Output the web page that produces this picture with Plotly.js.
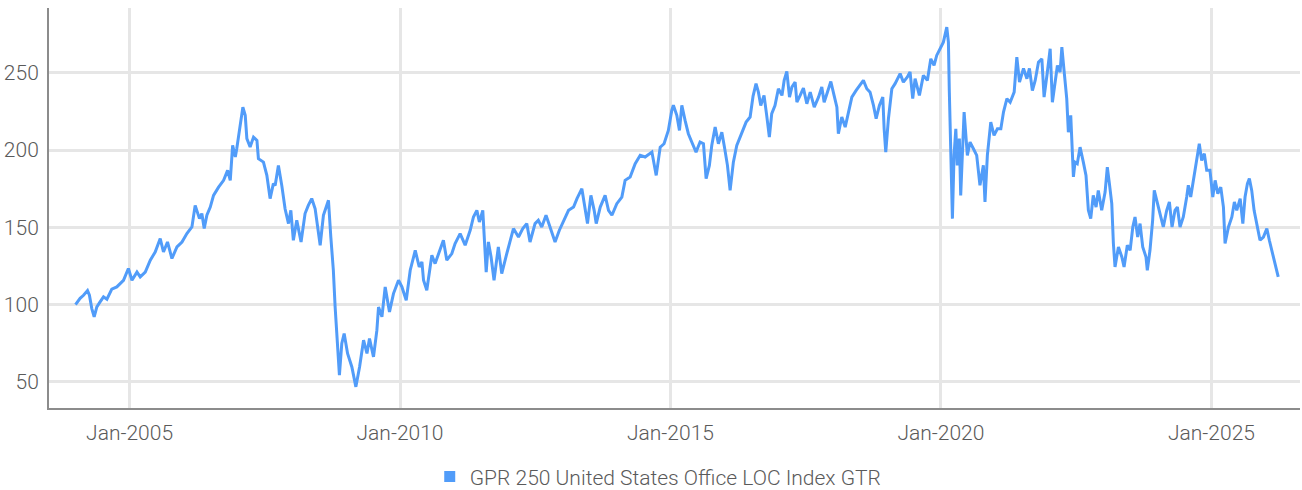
<!DOCTYPE html>
<html>
<head>
<meta charset="utf-8">
<script src="https://cdn.plot.ly/plotly-3.0.1.min.js"></script>
<style>
  html, body { margin: 0; padding: 0; background: #ffffff; }
  #chart { width: 1302px; height: 490px; }
</style>
</head>
<body>
<div id="chart"></div>
<script>
// ---- Data ----
const seriesName = "GPR 250 United States Office LOC Index GTR";

const dates = [
  "2004-01-02","2004-02-02","2004-02-25","2004-03-23","2004-04-05","2004-04-21","2004-05-07","2004-05-25","2004-06-16","2004-07-09","2004-08-01","2004-09-03","2004-10-07","2004-11-21","2004-12-24",
  "2005-01-17","2005-02-20","2005-03-14","2005-04-17","2005-05-21","2005-06-23","2005-07-27","2005-08-18","2005-09-14","2005-10-14","2005-11-17","2005-12-21",
  "2006-01-23","2006-02-26","2006-03-20","2006-04-18","2006-05-04","2006-05-20","2006-06-07","2006-06-30","2006-07-22","2006-08-25","2006-09-28","2006-10-25","2006-11-12","2006-11-28","2006-12-16","2006-12-26",
  "2007-01-18","2007-02-05","2007-02-21","2007-03-04","2007-03-26","2007-04-18","2007-05-11","2007-05-21","2007-06-24","2007-07-17","2007-08-08","2007-08-30","2007-09-11","2007-10-03","2007-10-26","2007-11-17","2007-12-10","2007-12-26",
  "2008-01-12","2008-02-04","2008-03-04","2008-03-31","2008-04-22","2008-05-15","2008-06-07","2008-07-11","2008-08-02","2008-09-05","2008-09-21","2008-10-08","2008-10-20","2008-10-31","2008-11-18","2008-12-04","2008-12-20",
  "2009-01-12","2009-02-10","2009-03-09","2009-04-03","2009-04-30","2009-05-23","2009-06-09","2009-07-06","2009-07-29","2009-08-09","2009-09-01","2009-09-23","2009-10-22","2009-11-18","2009-12-22",
  "2010-01-14","2010-02-12","2010-03-11","2010-04-14","2010-05-11","2010-05-29","2010-06-09","2010-07-01","2010-08-04","2010-08-26","2010-09-18","2010-10-21","2010-11-13","2010-12-17",
  "2011-01-08","2011-02-11","2011-03-17","2011-04-20","2011-05-12","2011-06-04","2011-06-21","2011-07-14","2011-08-06","2011-08-21","2011-09-08","2011-09-28","2011-10-27","2011-11-19","2011-12-23",
  "2012-01-26","2012-02-06","2012-03-11","2012-04-09","2012-05-06","2012-05-28","2012-07-01","2012-07-23","2012-08-15","2012-09-13","2012-10-10","2012-11-13","2012-12-12",
  "2013-01-09","2013-02-12","2013-03-18","2013-04-10","2013-05-13","2013-05-29","2013-06-20","2013-07-13","2013-08-04","2013-08-18","2013-09-14","2013-10-17","2013-11-09","2013-12-02",
  "2014-01-04","2014-02-07","2014-03-01","2014-04-04","2014-05-08","2014-06-11","2014-07-14","2014-08-29","2014-09-27","2014-10-24","2014-11-19","2014-12-18",
  "2015-01-10","2015-01-21","2015-02-13","2015-03-03","2015-03-19","2015-04-10","2015-05-02","2015-05-25","2015-06-23","2015-07-20","2015-08-12","2015-08-30","2015-09-21","2015-10-07","2015-10-30","2015-11-21","2015-12-14",
  "2016-01-01","2016-01-21","2016-02-08","2016-03-01","2016-03-24","2016-04-15","2016-05-08","2016-05-26","2016-06-22","2016-07-12","2016-08-01","2016-08-17","2016-09-02","2016-09-24","2016-10-12","2016-10-30","2016-11-15","2016-12-07","2016-12-30",
  "2017-01-23","2017-02-07","2017-02-25","2017-03-15","2017-03-31","2017-04-22","2017-05-04","2017-05-26","2017-06-17","2017-07-10","2017-08-02","2017-08-29","2017-09-27","2017-10-19","2017-11-04","2017-11-26","2017-12-19",
  "2018-01-10","2018-01-29","2018-02-08","2018-03-03","2018-03-26","2018-04-17","2018-05-10","2018-06-08","2018-07-05","2018-07-27","2018-08-19","2018-09-10","2018-10-03","2018-10-21","2018-11-12","2018-12-05","2018-12-14","2018-12-25",
  "2019-01-12","2019-02-04","2019-02-26","2019-04-01","2019-04-23","2019-05-20","2019-06-07","2019-06-25","2019-07-11","2019-08-09","2019-09-05","2019-10-02","2019-10-25","2019-11-16","2019-12-04","2019-12-27",
  "2020-01-18","2020-02-10","2020-02-21","2020-02-27","2020-03-08","2020-03-19","2020-03-30","2020-04-11","2020-04-21","2020-05-05","2020-05-14","2020-06-06","2020-06-28","2020-07-16","2020-08-07","2020-08-30","2020-09-21","2020-10-14","2020-10-25","2020-11-10","2020-12-03","2020-12-25",
  "2021-01-17","2021-02-09","2021-02-27","2021-03-22","2021-04-13","2021-05-10","2021-05-28","2021-06-15","2021-07-12","2021-08-04","2021-08-21","2021-09-10","2021-09-29","2021-10-21","2021-11-13","2021-11-28","2021-12-20",
  "2022-01-08","2022-01-23","2022-02-10","2022-02-26","2022-03-16","2022-03-28","2022-04-14","2022-04-30","2022-05-11","2022-05-27","2022-06-14","2022-06-25","2022-07-10","2022-07-29","2022-08-20","2022-09-07","2022-09-23","2022-10-09","2022-10-26","2022-11-14","2022-11-29","2022-12-22",
  "2023-01-14","2023-01-29","2023-02-12","2023-02-28","2023-03-11","2023-03-22","2023-04-14","2023-05-07","2023-05-22","2023-06-13","2023-07-02","2023-07-20","2023-08-04","2023-08-22","2023-09-07","2023-09-25","2023-10-17","2023-10-26","2023-11-13","2023-12-01","2023-12-12",
  "2024-01-02","2024-01-25","2024-02-11","2024-03-05","2024-03-23","2024-04-10","2024-04-30","2024-05-16","2024-06-03","2024-06-25","2024-07-18","2024-07-29","2024-08-14","2024-08-31","2024-09-23","2024-10-11","2024-10-27","2024-11-14","2024-11-30","2024-12-22",
  "2025-01-10","2025-01-26","2025-02-13","2025-03-05","2025-03-23","2025-04-03","2025-04-26","2025-05-19","2025-06-05","2025-06-21","2025-07-14","2025-08-01","2025-08-16","2025-09-01","2025-09-14","2025-09-30","2025-10-16","2025-11-03","2025-11-25","2025-12-18",
  "2026-01-10","2026-01-27","2026-02-19","2026-03-07","2026-03-28"
];

const values = [
  100,104,106,109,106,97.4,92,98.5,101.7,105,103.4,110,111.4,115.7,123.3,
  115.7,121,117.9,121,128.7,134,142.7,134,140.5,129.8,137.3,140.5,
  146,150.2,164.2,155.6,158.9,149.2,157.8,163.1,170.7,176,180.4,186.9,180.4,203,195.5,201,
  216,227.8,222.5,207.4,202,208.4,206.3,194.4,192.2,183.6,168.6,178.3,177,190,177,162,152.4,161,
  141.6,154.5,140.5,158.9,164.2,168.6,162,138.4,157.8,167.5,143.7,122.2,98.4,79,54.3,74.8,81.2,
  68.3,59.6,46.7,59.6,76.9,68.3,78,66.1,83.4,98.4,92,111.4,95.2,107.1,115.7,
  111.4,102.8,122.2,135,124.3,127.6,115.7,109.2,131.9,126.5,133,141.6,128.7,133,
  139.5,145.9,138.4,148.1,156.7,161,153.4,161,121,140.5,130.8,115.7,137.3,120,133,
  145.9,149.2,143.7,149.2,152.4,140.5,152.4,154.5,150.2,157.8,150.2,140.5,148.1,
  154.5,161,163.1,168.6,175,165.3,152.4,170.7,161,152.4,163.1,170.7,161,157.8,
  165.3,169.6,180.4,182.6,191.2,196.6,195.5,198.7,183.6,201.9,204.1,212.7,
  225.7,229,222.5,212.7,229,219.2,210.6,205.2,198.7,205.2,204.1,181.5,190.1,203,214.9,204.1,211.6,
  201.9,190.1,173.9,192.2,203,208.4,214.9,218.1,221.4,235,243,237.5,228.9,235.4,222.5,208.4,223.6,228.9,239.7,
  235.4,245.1,250.9,234.3,240.8,244,231,235.4,240.1,230,237.5,227.8,234.3,240.8,231,237.5,244.4,
  235.4,227.8,210.6,221.4,214.9,223.6,234.3,238.6,241.9,245.1,239.7,237.5,228.9,220.3,228.9,234.3,213.8,198.7,
  220.3,239.7,243,249.5,244,247.3,250.6,233.3,246.2,235.4,248.4,245.1,259.1,254.8,261.3,265.6,
  269.9,279.6,269.9,238.6,205.2,155.6,196.6,213.8,190.1,207.4,170.7,224.6,196.6,205.2,201,196.6,177.2,190.1,166.4,196.6,218.1,209.5,
  213.8,213.8,224.6,233.3,231,237.5,260.2,244,252.9,246.2,252.9,238.6,245.1,256.9,259.1,234.3,250.4,
  265.6,231,244,254.8,250.4,266.6,249.4,233.3,211.6,222.5,182.6,192.2,191.2,201.9,192.2,183.6,161,155.6,170.7,163.1,173.9,161,
  172.8,189,178.3,165.3,139.5,124.3,137.3,130.8,124.3,138.4,135.1,150.2,156.7,143.7,152.4,137.3,130.8,122.2,135.1,154.5,173.9,
  166.4,156.7,150.2,161,166.4,150.2,161,163.1,150.2,156.7,169.6,177.2,169.6,180.4,192.2,204.1,193.3,197.7,186.9,186.9,
  169.6,180.4,171.8,176,163.1,139.5,150.2,156.7,166.4,161,168.6,152.4,169.6,178.3,181.5,173.9,161,152.4,141.6,143.7,
  149.2,141.6,133,126.5,117.9
];

const yTicks = [50, 100, 150, 200, 250];

// ---- Styling ----
const lineColor = "#519cf9";
const gridColor = "#e6e6e6";
const axisColor = "#8c8c8c";
const textColor = "#5a5a5a";
const font = { family: "Roboto, 'Open Sans', sans-serif", size: 21, color: textColor, weight: 300 };

const traces = [
  {
    type: "scatter",
    mode: "lines",
    x: dates,
    y: values,
    name: seriesName,
    showlegend: false,
    line: { color: lineColor, width: 3 },
    hoverinfo: "x+y"
  },
  {
    type: "scatter",
    mode: "markers",
    x: [null],
    y: [null],
    name: seriesName,
    showlegend: true,
    marker: { color: lineColor, symbol: "square", size: 11 }
  }
];

const layout = {
  width: 1302,
  height: 490,
  margin: { l: 49, r: 2, t: 8, b: 82, autoexpand: false },
  paper_bgcolor: "#ffffff",
  plot_bgcolor: "#ffffff",
  font: font,
  showlegend: true,
  legend: {
    orientation: "h",
    x: 0.487,
    xanchor: "center",
    y: -0.172,
    yanchor: "middle",
    font: font,
    itemwidth: 30,
    bgcolor: "rgba(0,0,0,0)"
  },
  xaxis: {
    type: "date",
    range: ["2003-07-07", "2026-08-22"],
    tick0: "2005-01-01",
    dtick: "M60",
    tickformat: "%b-%Y",
    showgrid: true,
    gridcolor: gridColor,
    gridwidth: 3,
    showline: true,
    linecolor: axisColor,
    linewidth: 2,
    ticks: "",
    ticklabelstandoff: 5,
    zeroline: false,
    automargin: false,
    tickfont: font
  },
  yaxis: {
    range: [33, 292],
    tickvals: yTicks,
    showgrid: true,
    gridcolor: gridColor,
    gridwidth: 3,
    showline: true,
    linecolor: axisColor,
    linewidth: 2,
    ticks: "",
    ticklabelstandoff: 4,
    zeroline: false,
    automargin: false,
    tickfont: font
  }
};

Plotly.newPlot("chart", traces, layout, { displayModeBar: false, staticPlot: true });
</script>
</body>
</html>
